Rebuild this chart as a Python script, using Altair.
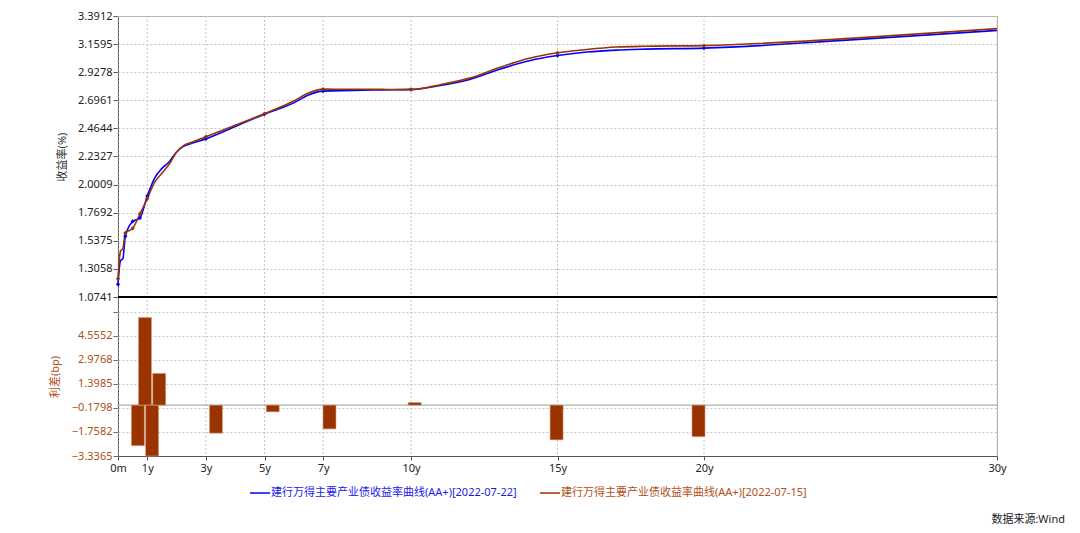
import json
import altair as alt
import pandas as pd

# ---------------- data ----------------
tenors = [0, 0.083, 0.167, 0.25, 0.5, 0.75, 1, 1.25, 1.5, 1.75, 2, 2.25, 2.5,
          3, 4, 5, 6, 6.5, 7, 8, 9, 10, 11, 12, 13, 14, 15, 16, 17, 18, 20, 25, 30]
yield_0722 = [1.179, 1.372, 1.390, 1.575, 1.697, 1.7265, 1.907, 2.055, 2.135, 2.19, 2.27, 2.318, 2.340,
              2.378, 2.480, 2.582, 2.675, 2.740, 2.772, 2.777, 2.782, 2.786, 2.818, 2.868, 2.950, 3.020,
              3.065, 3.094, 3.110, 3.118, 3.126, 3.194, 3.272]
yield_0715 = [1.225, 1.452, 1.474, 1.602, 1.640, 1.760, 1.886, 2.02, 2.095, 2.17, 2.27, 2.325, 2.348,
              2.396, 2.490, 2.586, 2.690, 2.756, 2.788, 2.787, 2.786, 2.784, 2.825, 2.879, 2.965, 3.040,
              3.088, 3.115, 3.135, 3.142, 3.147, 3.207, 3.287]
marker_tenors = [0, 0.25, 0.5, 0.75, 1, 3, 5, 7, 10, 15, 20]

spread_tenors = [0.25, 0.5, 0.75, 1, 3, 5, 7, 10, 15, 20]
spread_bp = [-2.66, 5.74, -3.3365, 2.08, -1.84, -0.44, -1.56, 0.17, -2.28, -2.07]

series_names = ["建行万得主要产业债收益率曲线(AA+)[2022-07-22]",
                "建行万得主要产业债收益率曲线(AA+)[2022-07-15]"]

x_tick_values = [0, 1, 3, 5, 7, 10, 15, 20, 30]
x_tick_labels = ["0m", "1y", "3y", "5y", "7y", "10y", "15y", "20y", "30y"]

yield_ticks = [1.0741, 1.3058, 1.5375, 1.7692, 2.0009, 2.2327, 2.4644, 2.6961, 2.9278, 3.1595, 3.3912]
spread_ticks = [-3.3365, -1.7582, -0.1798, 1.3985, 2.9768, 4.5552, 6.1335]
spread_labelled = [-3.3365, -1.7582, -0.1798, 1.3985, 2.9768, 4.5552]
spread_domain = [-3.3365, 7.09]

source_text = "数据来源:Wind"
yield_title = "收益率(%)"
spread_title = "利差(bp)"

# ---------------- styles ----------------
W, H, TOP_H = 879, 440, 281
BLUE = "#0000ff"
BROWN = "#993300"
BROWN_TXT = "#b0501a"
GRID = "#c4c4c4"
FONT = "Noto Sans, Noto Sans CJK SC, sans-serif"


def with_minor(majors, extra_top=None):
    vals = []
    for a, b in zip(majors[:-1], majors[1:]):
        for k in range(4):
            vals.append(a if k == 0 else round(a + (b - a) * k / 4, 6))
    vals.append(majors[-1])
    if extra_top is not None:
        step = (majors[-1] - majors[-2]) / 4
        v = majors[-1] + step
        while v < extra_top:
            vals.append(round(v, 6))
            v += step
    return vals


top_vals = with_minor(yield_ticks)
bot_vals = with_minor(spread_ticks, spread_domain[1])

top_major_test = f"indexof({json.dumps(yield_ticks)}, datum.value) >= 0"
bot_major_test = f"indexof({json.dumps(spread_ticks)}, datum.value) >= 0"
bot_label_test = f"indexof({json.dumps(spread_labelled)}, datum.value) >= 0"

x_label_expr = " : ".join(
    [f"datum.value == {v} ? '{l}'" for v, l in zip(x_tick_values, x_tick_labels)] + ["''"]
)

df = pd.DataFrame({
    "tenor": tenors * 2,
    "yield": yield_0722 + yield_0715,
    "series": [series_names[0]] * len(tenors) + [series_names[1]] * len(tenors),
})
df_bar = pd.DataFrame({"tenor": spread_tenors, "spread": spread_bp})
df_xgrid = pd.DataFrame({"tenor": x_tick_values})

x_scale = alt.Scale(domain=[0, 30], nice=False, zero=False)
x_axis = alt.Axis(values=x_tick_values, labelExpr=x_label_expr, title=None, grid=False,
                  tickSize=4, labelFlush=False,
                  labelOverlap=False, domainColor="#555555", tickColor="#555555",
                  labelColor="#222222", labelFontSize=11, labelPadding=2)

top_scale = alt.Scale(domain=[yield_ticks[0], yield_ticks[-1]], range=[TOP_H, 0], nice=False, zero=False)
top_axis = alt.Axis(
    orient="left", values=top_vals, title=yield_title,
    labelExpr=f"{top_major_test} ? format(datum.value, '.4f') : ''",
    tickSize={"condition": {"test": top_major_test, "value": 5}, "value": 3},
    gridOpacity={"condition": {"test": top_major_test, "value": 1}, "value": 0},
    grid=True, gridDash=[2, 2], gridColor=GRID, labelOverlap=False, labelBound=False,
    labelFontSize=11, labelColor="#222222", tickColor="#555555", domainColor="#555555",
    titleFontSize=11, titleColor="#333333", titleFontWeight="normal", titlePadding=10, labelPadding=1,
)

bot_scale = alt.Scale(domain=spread_domain, range=[H, TOP_H], nice=False, zero=False)
bot_axis = alt.Axis(
    orient="left", values=bot_vals, title=spread_title,
    labelExpr=f"{bot_label_test} ? format(datum.value, '.4f') : ''",
    tickSize={"condition": {"test": bot_major_test, "value": 5}, "value": 3},
    gridOpacity={"condition": {"test": bot_major_test, "value": 1}, "value": 0},
    grid=True, gridDash=[2, 2], gridColor=GRID, labelOverlap=False, labelBound=False,
    labelFontSize=11, labelColor=BROWN_TXT, tickColor=BROWN_TXT, domainColor="#555555",
    titleFontSize=11, titleColor=BROWN_TXT, titleFontWeight="normal", titlePadding=11, labelPadding=1,
)

color_scale = alt.Scale(domain=series_names, range=[BLUE, BROWN])

xgrid = alt.Chart(df_xgrid).mark_rule(color=GRID, strokeDash=[2, 2], strokeWidth=1).encode(
    x=alt.X("tenor:Q", scale=x_scale, axis=x_axis),
    y=alt.value(0), y2=alt.value(H),
)

base = alt.Chart(df)
blue_line = base.transform_filter(alt.datum.series == series_names[0]).mark_line(
    interpolate="monotone", strokeWidth=1.6).encode(
    x=alt.X("tenor:Q", scale=x_scale),
    y=alt.Y("yield:Q", scale=top_scale, axis=top_axis),
    color=alt.Color("series:N", scale=color_scale, legend=None),
)
brown_line = base.transform_filter(alt.datum.series == series_names[1]).mark_line(
    interpolate="monotone", strokeWidth=1.6).encode(
    x=alt.X("tenor:Q", scale=x_scale),
    y=alt.Y("yield:Q", scale=top_scale),
    color=alt.Color("series:N", scale=color_scale, legend=None),
)
points = base.transform_filter(
    alt.FieldOneOfPredicate(field="tenor", oneOf=marker_tenors)
).mark_point(shape="diamond", filled=True, size=18, opacity=1).encode(
    x=alt.X("tenor:Q", scale=x_scale),
    y=alt.Y("yield:Q", scale=top_scale),
    color=alt.Color("series:N", scale=color_scale, legend=None),
)
separator = alt.Chart(pd.DataFrame({"v": [yield_ticks[0]]})).mark_rule(
    color="black", strokeWidth=2).encode(
    y=alt.datum(yield_ticks[0]), x=alt.value(0), x2=alt.value(W))

top_layer = alt.layer(xgrid, blue_line, brown_line, points, separator)

bars = alt.Chart(df_bar).mark_bar(size=13, color=BROWN, stroke="#d8a080", strokeWidth=0.6).encode(
    x=alt.X("tenor:Q", scale=alt.Scale(domain=[-0.275, 30.34], nice=False, zero=False), axis=None),
    y=alt.Y("spread:Q", scale=bot_scale, axis=bot_axis),
    y2=alt.datum(0),
)
zero_rule = alt.Chart(pd.DataFrame({"v": [0]})).mark_rule(color="#999999", strokeWidth=1).encode(
    y=alt.datum(0), x=alt.value(0), x2=alt.value(W))

bottom_layer = alt.layer(zero_rule, bars)

leg_y = 477
leg1 = pd.DataFrame({"s": [series_names[0]]})
leg2 = pd.DataFrame({"s": [series_names[1]]})
leg_blue_line = alt.Chart(leg1).mark_rule(color=BLUE, strokeWidth=1.5).encode(
    x=alt.value(132), x2=alt.value(152), y=alt.value(leg_y))
leg_blue_text = alt.Chart(leg1).mark_text(align="left", baseline="middle", color="#1a1ae6",
                                          fontSize=11, font=FONT).encode(
    x=alt.value(153), y=alt.value(leg_y), text="s:N")
leg_brown_line = alt.Chart(leg2).mark_rule(color=BROWN, strokeWidth=1.5).encode(
    x=alt.value(422), x2=alt.value(442), y=alt.value(leg_y))
leg_brown_text = alt.Chart(leg2).mark_text(align="left", baseline="middle", color=BROWN_TXT,
                                           fontSize=11, font=FONT).encode(
    x=alt.value(443), y=alt.value(leg_y), text="s:N")
src = alt.Chart(pd.DataFrame({"s": [source_text]})).mark_text(
    align="right", baseline="middle", color="#222222", fontSize=11, font=FONT).encode(
    x=alt.value(947), y=alt.value(504), text="s:N")

chart = alt.layer(
    top_layer, bottom_layer, leg_blue_line, leg_blue_text, leg_brown_line, leg_brown_text, src
).resolve_scale(x="independent", y="independent").properties(
    width=W, height=H,
    autosize=alt.AutoSizeParams(type="none"),
    padding={"left": 110, "top": 8, "right": 72, "bottom": 76},
).configure_view(stroke="#a8a8a8").configure_axis(
    labelFont=FONT, titleFont=FONT
).configure_text(font=FONT)

chart.save("out.html", embed_options={"renderer": "svg", "actions": False})
